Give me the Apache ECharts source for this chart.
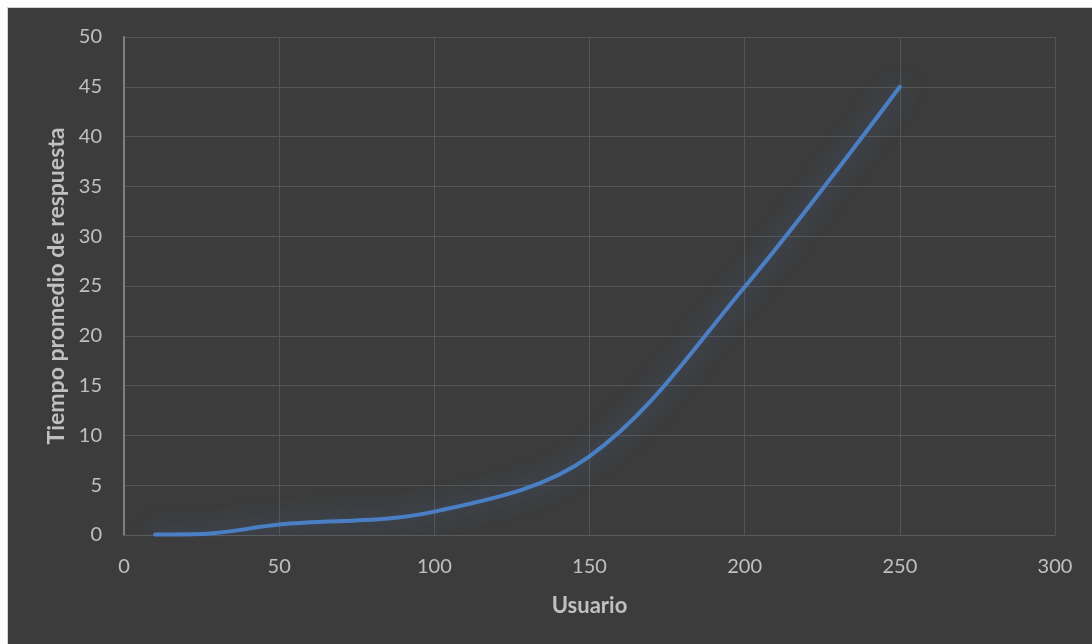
<!DOCTYPE html>
<html>
<head>
<meta charset="utf-8">
<script src="https://cdn.jsdelivr.net/npm/echarts@6/dist/echarts.min.js"></script>
<style>
html,body{margin:0;padding:0;background:#ffffff;}
#chart{width:1092px;height:644px;}
</style>
</head>
<body>
<div id="chart"></div>
<script>
const usuarios = [10, 25, 50, 100, 150, 200, 250];
const tiempos = [0.05, 0.1, 1.05, 2.35, 7.9, 24.9, 45];
const xTicks = [0, 50, 100, 150, 200, 250, 300];
const yTicks = [0, 5, 10, 15, 20, 25, 30, 35, 40, 45, 50];
const xTitle = 'Usuario';
const yTitle = 'Tiempo promedio de respuesta';

const chart = echarts.init(document.getElementById('chart'), null, {renderer: 'canvas'});
const labelColor = '#c0c0c0';
const gridColor = '#555555';
chart.setOption({
  backgroundColor: '#ffffff',
  animation: false,
  graphic: [
    {type: 'rect', left: 7, top: 7, shape: {width: 1092, height: 644}, style: {fill: '#3c3c3c', stroke: '#d4d4d4', lineWidth: 1}, z: -10, silent: true}
  ],
  grid: {left: 124, right: 37, top: 37, bottom: 109, containLabel: false},
  xAxis: {
    type: 'value',
    min: xTicks[0], max: xTicks[xTicks.length - 1], interval: 50,
    name: xTitle, nameLocation: 'middle', nameGap: 60,
    nameTextStyle: {color: labelColor, fontFamily: 'Lato', fontWeight: 'bold', fontSize: 22},
    axisLine: {show: true, lineStyle: {color: '#5c5c5c', width: 1}},
    axisTick: {show: false},
    axisLabel: {color: labelColor, fontFamily: 'Lato', fontSize: 20, margin: 22},
    splitLine: {show: true, lineStyle: {color: gridColor, width: 1}}
  },
  yAxis: {
    type: 'value',
    min: yTicks[0], max: yTicks[yTicks.length - 1], interval: 5,
    name: yTitle, nameLocation: 'middle', nameGap: 56,
    nameTextStyle: {color: labelColor, fontFamily: 'Lato', fontWeight: 'bold', fontSize: 23},
    axisLine: {show: true, lineStyle: {color: '#7f7f7f', width: 2}},
    axisTick: {show: false},
    axisLabel: {color: labelColor, fontFamily: 'Lato', fontSize: 20, margin: 22},
    splitLine: {show: true, lineStyle: {color: gridColor, width: 1}}
  },
  series: [{
    type: 'line',
    data: usuarios.map((u, i) => [u, tiempos[i]]),
    smooth: 0.35,
    symbol: 'none',
    lineStyle: {color: '#4a7fc6', width: 4, shadowColor: 'rgba(70,125,200,0.6)', shadowBlur: 22, cap: 'round'}
  }]
});
</script>
</body>
</html>
